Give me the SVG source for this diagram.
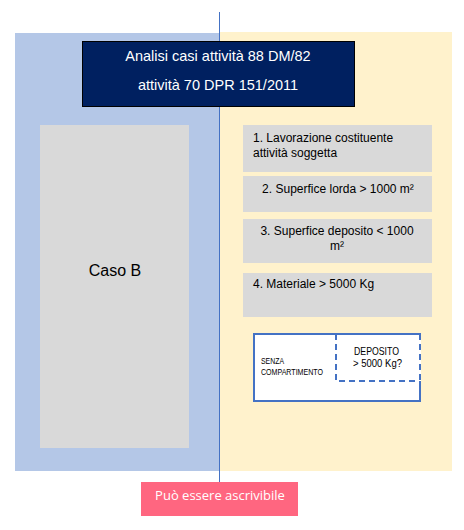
<svg xmlns="http://www.w3.org/2000/svg" width="464" height="530" viewBox="0 0 464 530">
<style>
  text { font-family: "Liberation Sans", "DejaVu Sans", sans-serif; }
  .gray { fill: #d9d9d9; }
  .t12 { font-size: 12px; fill: #000; }
  .title { font-size: 14.5px; fill: #fff; text-anchor: middle; }
</style>
<rect width="464" height="530" fill="#fff"/>
<g id="panel-left"><rect x="15" y="33" width="204" height="438" fill="#b4c7e7"/></g>
<g id="panel-right"><rect x="219" y="32" width="233" height="439" fill="#fff2cc"/></g>
<g id="connectors"><line x1="219.5" y1="12" x2="219.5" y2="482" stroke="#4472c4" stroke-width="1"/></g>
<g id="title">
  <rect x="82.5" y="41.5" width="272" height="65" fill="#002060" stroke="#000" stroke-width="1"/>
  <text class="title" x="218" y="61">Analisi casi attività 88 DM/82</text>
  <text class="title" x="218" y="90">attività 70 DPR 151/2011</text>
</g>
<g id="caso-b">
  <rect class="gray" x="40" y="125" width="149" height="323"/>
  <text x="115" y="276" font-size="16" text-anchor="middle" fill="#000">Caso B</text>
</g>
<g id="box1">
  <rect class="gray" x="243" y="125" width="189" height="47"/>
  <text class="t12" x="253" y="142">1. Lavorazione costituente</text>
  <text class="t12" x="253" y="157">attività soggetta</text>
</g>
<g id="box2">
  <rect class="gray" x="243" y="176" width="189" height="36"/>
  <text class="t12" x="338" y="193" text-anchor="middle">2. Superfice lorda &gt; 1000 m²</text>
</g>
<g id="box3">
  <rect class="gray" x="243" y="219" width="189" height="44"/>
  <text class="t12" x="337" y="235" text-anchor="middle">3. Superfice deposito &lt; 1000</text>
  <text class="t12" x="337" y="250" text-anchor="middle">m²</text>
</g>
<g id="box4">
  <rect class="gray" x="243" y="273" width="189" height="44"/>
  <text class="t12" x="253" y="288">4. Materiale &gt; 5000 Kg</text>
</g>
<g id="compartimento">
  <rect x="254" y="334" width="166" height="67" fill="#fff" stroke="#4472c4" stroke-width="2"/>
  <path d="M336 334 V381 H420" fill="none" stroke="#4472c4" stroke-width="2" stroke-dasharray="6,4"/>
  <line x1="420" y1="334" x2="420" y2="381" stroke="#fff" stroke-width="2"/>
  <line x1="420" y1="334" x2="420" y2="381" stroke="#4472c4" stroke-width="2" stroke-dasharray="6,4"/>
  <text x="261" y="364" font-size="8.5" fill="#000" textLength="23" lengthAdjust="spacingAndGlyphs">SENZA</text>
  <text x="261" y="375" font-size="8.5" fill="#000" textLength="62" lengthAdjust="spacingAndGlyphs">COMPARTIMENTO</text>
  <text x="354" y="355" font-size="10.5" fill="#000" textLength="45" lengthAdjust="spacingAndGlyphs">DEPOSITO</text>
  <text x="353" y="367" font-size="10.5" fill="#000" textLength="49" lengthAdjust="spacingAndGlyphs">&gt; 5000 Kg?</text>
</g>
<g id="esito">
  <rect x="141" y="482" width="157" height="34" fill="#ff6680"/>
  <text x="220" y="500" font-size="13" fill="#fff" text-anchor="middle" style="font-family:'Open Sans','Liberation Sans',sans-serif">Può essere ascrivibile</text>
</g>
</svg>
